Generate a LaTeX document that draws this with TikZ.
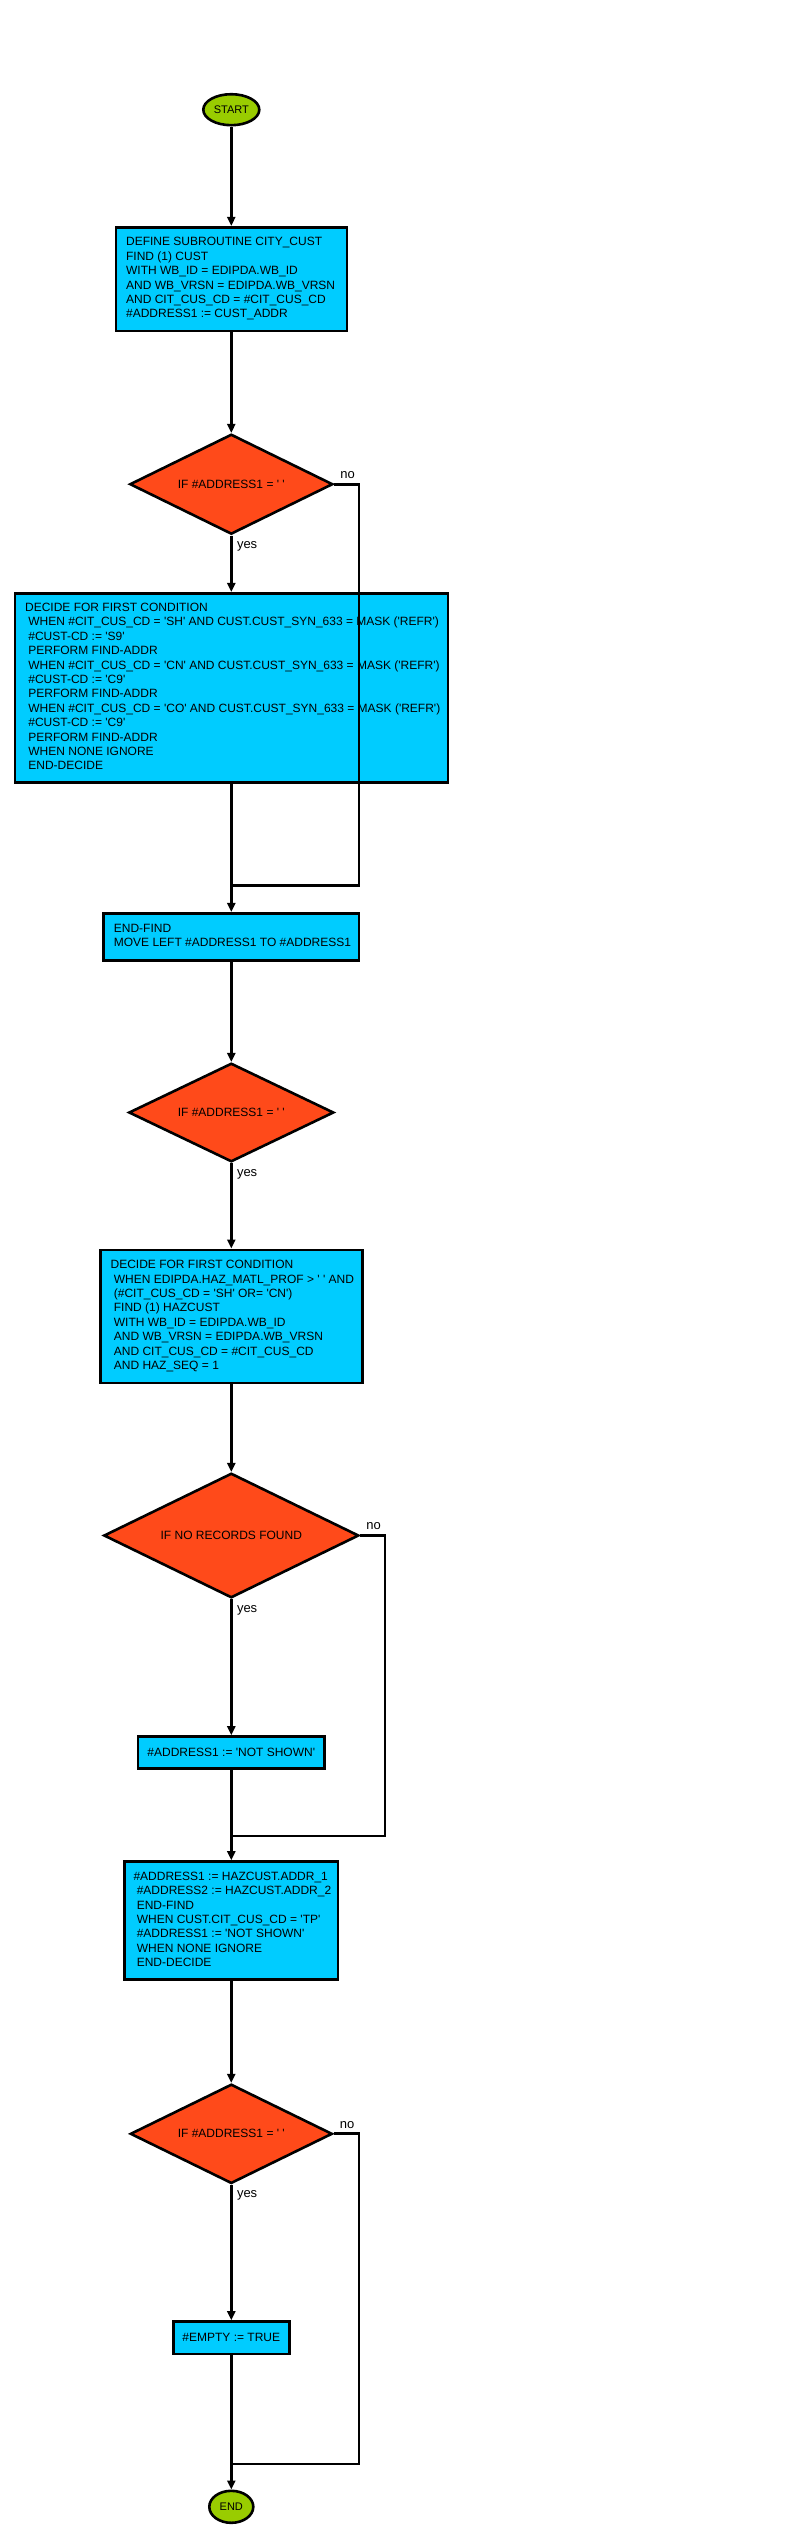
\documentclass[tikz,border=0pt]{standalone}
\usepackage{fontspec}
\setmainfont{Liberation Sans}[Ligatures=TeXOff]
\usetikzlibrary{shapes.geometric,arrows.meta}
\definecolor{termgreen}{HTML}{99CC00}
\definecolor{boxblue}{HTML}{00CCFF}
\definecolor{decorange}{HTML}{FF4A1A}
\newcommand\ind{\hspace*{3.3pt}}
\newcommand\txtlines[2]{\makebox[#1][l]{\begin{tabular}{@{}l@{}}#2\end{tabular}}}
\begin{document}
\begin{tikzpicture}[x=1pt,y=-1pt,
  term/.style={ellipse,draw=black,line width=2.6pt,fill=termgreen,inner sep=0pt,font=\fontsize{11}{13}\selectfont},
  proc/.style={rectangle,draw=black,line width=2.6pt,fill=boxblue,inner ysep=0pt,font=\fontsize{12}{14.4}\selectfont},
  textbox/.style={proc,inner xsep=10.3pt},
  dec/.style={diamond,shape aspect=2,draw=black,line width=2.6pt,fill=decorange,inner sep=0pt,font=\fontsize{12}{14.4}\selectfont},
  conn/.style={line width=3pt,-{Triangle[length=9pt,width=8pt]}},
  loopline/.style={line width=2.8pt},
  lbl/.style={font=\fontsize{13}{15}\selectfont,inner sep=0pt,anchor=west}]
\useasboundingbox (0,0) rectangle (800,2535);

\node[term,minimum width=56pt,minimum height=31pt] (start) at (231.3,109.7) {START};

\node[textbox,minimum width=231pt,minimum height=103.6pt] (b1) at (231.3,279) {\txtlines{210.4pt}{DEFINE SUBROUTINE CITY\_CUST\\FIND (1) CUST\\WITH WB\_ID = EDIPDA.WB\_ID\\AND WB\_VRSN = EDIPDA.WB\_VRSN\\AND CIT\_CUS\_CD = \#CIT\_CUS\_CD\\\#ADDRESS1 := CUST\_ADDR}};

\node[dec,minimum width=203pt,minimum height=100pt] (d1) at (231.3,484.2) {IF \#ADDRESS1 = ' '};

\node[textbox,minimum width=433pt,minimum height=189.3pt] (b2) at (231.3,687.9) {\txtlines{412.4pt}{DECIDE FOR FIRST CONDITION\\\ind WHEN \#CIT\_CUS\_CD = 'SH' AND CUST.CUST\_SYN\_633 = MASK ('REFR')\\\ind \#CUST-CD := 'S9'\\\ind PERFORM FIND-ADDR\\\ind WHEN \#CIT\_CUS\_CD = 'CN' AND CUST.CUST\_SYN\_633 = MASK ('REFR')\\\ind \#CUST-CD := 'C9'\\\ind PERFORM FIND-ADDR\\\ind WHEN \#CIT\_CUS\_CD = 'CO' AND CUST.CUST\_SYN\_633 = MASK ('REFR')\\\ind \#CUST-CD := 'C9'\\\ind PERFORM FIND-ADDR\\\ind WHEN NONE IGNORE\\\ind END-DECIDE}};

\node[textbox,minimum width=255.4pt,minimum height=47pt] (b3) at (231.3,936.7) {\txtlines{234.8pt}{END-FIND\\MOVE LEFT \#ADDRESS1 TO \#ADDRESS1}};

\node[dec,minimum width=205pt,minimum height=98.6pt] (d2) at (231.3,1112.5) {IF \#ADDRESS1 = ' '};

\node[textbox,minimum width=262pt,minimum height=133pt] (b4) at (231.3,1316.3) {\txtlines{241.4pt}{DECIDE FOR FIRST CONDITION\\\ind WHEN EDIPDA.HAZ\_MATL\_PROF > ' ' AND\\\ind (\#CIT\_CUS\_CD = 'SH' OR= 'CN')\\\ind FIND (1) HAZCUST\\\ind WITH WB\_ID = EDIPDA.WB\_ID\\\ind AND WB\_VRSN = EDIPDA.WB\_VRSN\\\ind AND CIT\_CUS\_CD = \#CIT\_CUS\_CD\\\ind AND HAZ\_SEQ = 1}};

\node[dec,minimum width=255pt,minimum height=124.6pt] (d3) at (231.3,1535.5) {IF NO RECORDS FOUND};

\node[proc,minimum width=186.3pt,minimum height=32pt] (b5) at (231.3,1752.5) {\#ADDRESS1 := 'NOT SHOWN'};

\node[textbox,minimum width=213.6pt,minimum height=118pt,inner xsep=9pt] (b6) at (231.3,1920.5) {\txtlines{195.6pt}{\#ADDRESS1 := HAZCUST.ADDR\_1\\\ind \#ADDRESS2 := HAZCUST.ADDR\_2\\\ind END-FIND\\\ind WHEN CUST.CIT\_CUS\_CD = 'TP'\\\ind \#ADDRESS1 := 'NOT SHOWN'\\\ind WHEN NONE IGNORE\\\ind END-DECIDE}};

\node[dec,minimum width=202pt,minimum height=99.3pt] (d4) at (231.3,2133.8) {IF \#ADDRESS1 = ' '};

\node[proc,minimum width=116pt,minimum height=32.7pt] (b7) at (231.3,2337.8) {\#EMPTY := TRUE};

\node[term,minimum width=44pt,minimum height=32pt] (end) at (231.3,2506.8) {END};

% merge points
\coordinate (m1) at (231.3,885.7);
\coordinate (r1) at (359,885.7);
\coordinate (m2) at (231.3,1836);
\coordinate (r2) at (385,1836);
\coordinate (m3) at (231.3,2464);
\coordinate (r3) at (359,2464);

\draw[conn] (start) -- (b1);
\draw[conn] (b1) -- (d1);
\draw[conn] (d1) -- (b2);
\draw[conn] (b2) -- (b3);
\draw[loopline] (d1.east) -| (r1) -- (m1);
\draw[conn] (b3) -- (d2);
\draw[conn] (d2) -- (b4);
\draw[conn] (b4) -- (d3);
\draw[conn] (d3) -- (b5);
\draw[conn] (b5) -- (b6);
\draw[loopline] (d3.east) -| (r2) -- (m2);
\draw[conn] (b6) -- (d4);
\draw[conn] (d4) -- (b7);
\draw[conn] (b7) -- (end);
\draw[loopline] (d4.east) -| (r3) -- (m3);

% labels
\node[lbl] (y1) at ([shift={(5.5,11)}]d1.south) {yes};
\node[lbl] (n1) at ([shift={(6,-9)}]d1.east) {no};
\node[lbl] (y2) at ([shift={(5.5,11)}]d2.south) {yes};
\node[lbl] (y3) at ([shift={(5.5,11)}]d3.south) {yes};
\node[lbl] (n3) at ([shift={(6,-9)}]d3.east) {no};
\node[lbl] (y4) at ([shift={(5.5,11)}]d4.south) {yes};
\node[lbl] (n4) at ([shift={(6,-9)}]d4.east) {no};
\end{tikzpicture}
\end{document}
